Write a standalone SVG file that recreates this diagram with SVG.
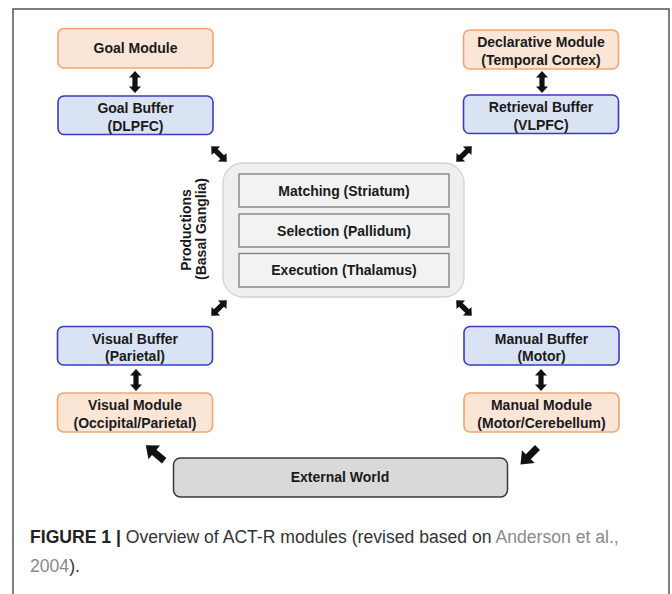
<svg xmlns="http://www.w3.org/2000/svg" xmlns:xlink="http://www.w3.org/1999/xlink" width="672" height="594" viewBox="0 0 672 594">
<style>
.t{font-family:"Liberation Sans",Arial,sans-serif;font-weight:bold;font-size:14px;fill:#1a1a1a;text-anchor:middle}
.mod{fill:#fbe5d6;stroke:#f2a56e;stroke-width:1.6}
.buf{fill:#dae3f3;stroke:#3b3bc4;stroke-width:1.6}
.inner{fill:#f2f2f2;stroke:#7a7a7a;stroke-width:1.3}
.cap{font-family:"Liberation Sans",Arial,sans-serif;font-size:17.6px;fill:#333}
</style>
<defs>
<polygon id="dbl" points="-11,0 -4.5,-6 -4.5,-2.6 4.5,-2.6 4.5,-6 11,0 4.5,6 4.5,2.6 -4.5,2.6 -4.5,6" fill="#111"/>
<polygon id="sgl" points="-12,-3.5 1,-3.5 1,-9 12,0 1,9 1,3.5 -12,3.5" fill="#111"/>
</defs>
<rect width="672" height="594" fill="#fff"/>
<path d="M13,594 V9 H669 V594" fill="none" stroke="#555" stroke-width="1.5"/>

<g id="goal-module"><rect class="mod" x="58" y="28.5" width="155" height="39.5" rx="6"/><text class="t" x="135.5" y="53">Goal Module</text></g>
<g id="goal-buffer"><rect class="buf" x="58" y="96" width="155" height="38.5" rx="6"/><text class="t" x="135.5" y="113">Goal Buffer</text><text class="t" x="135.5" y="131">(DLPFC)</text></g>
<g id="declarative-module"><rect class="mod" x="463.5" y="30" width="155" height="39" rx="6"/><text class="t" x="541" y="47">Declarative Module</text><text class="t" x="541" y="64.5">(Temporal Cortex)</text></g>
<g id="retrieval-buffer"><rect class="buf" x="463.5" y="95" width="155" height="38.5" rx="6"/><text class="t" x="541" y="112">Retrieval Buffer</text><text class="t" x="541" y="130">(VLPFC)</text></g>

<g id="productions">
<rect x="223" y="163" width="241" height="134" rx="20" fill="#efefef" stroke="#d2d2d2" stroke-width="1.3"/>
<text class="t" transform="translate(191,230) rotate(-90)">Productions</text>
<text class="t" transform="translate(206,229) rotate(-90)" font-size="13.5">(Basal Ganglia)</text>
<g id="matching"><rect class="inner" x="239" y="174" width="210" height="33"/><text class="t" x="344" y="196">Matching (Striatum)</text></g>
<g id="selection"><rect class="inner" x="239" y="214" width="210" height="33"/><text class="t" x="344" y="235.5">Selection (Pallidum)</text></g>
<g id="execution"><rect class="inner" x="239" y="253.5" width="210" height="33.5"/><text class="t" x="344" y="275">Execution (Thalamus)</text></g>
</g>

<g id="visual-buffer"><rect class="buf" x="57.5" y="326.5" width="155" height="38.5" rx="6"/><text class="t" x="135" y="343.5">Visual Buffer</text><text class="t" x="135" y="361">(Parietal)</text></g>
<g id="visual-module"><rect class="mod" x="57.5" y="393" width="155" height="39" rx="6"/><text class="t" x="135" y="410">Visual Module</text><text class="t" x="135" y="428">(Occipital/Parietal)</text></g>
<g id="manual-buffer"><rect class="buf" x="464" y="326.5" width="155" height="38.5" rx="6"/><text class="t" x="541.5" y="343.5">Manual Buffer</text><text class="t" x="541.5" y="361">(Motor)</text></g>
<g id="manual-module"><rect class="mod" x="464" y="393" width="155" height="39" rx="6"/><text class="t" x="541.5" y="410">Manual Module</text><text class="t" x="541.5" y="428">(Motor/Cerebellum)</text></g>

<g id="external-world"><rect x="173.5" y="458" width="334" height="39" rx="7" fill="#d9d9d9" stroke="#3a3a3a" stroke-width="1.5"/><text class="t" x="340" y="482">External World</text></g>

<g id="connectors">
<use href="#dbl" transform="translate(135,82) rotate(90)"/>
<use href="#dbl" transform="translate(542,82) rotate(90)"/>
<use href="#dbl" transform="translate(136,380) rotate(90)"/>
<use href="#dbl" transform="translate(541,380) rotate(90)"/>
<use href="#dbl" transform="translate(219,154) rotate(45)"/>
<use href="#dbl" transform="translate(464,154) rotate(-45)"/>
<use href="#dbl" transform="translate(219,308) rotate(-45)"/>
<use href="#dbl" transform="translate(464,308) rotate(45)"/>
<use href="#sgl" transform="translate(155,453) rotate(-140)"/>
<use href="#sgl" transform="translate(529,456) rotate(135)"/>
</g>

<text class="cap" x="30" y="543"><tspan font-weight="bold" fill="#222">FIGURE 1 |</tspan> Overview of ACT-R modules (revised based on <tspan fill="#8a8a8a">Anderson et al.,</tspan></text>
<text class="cap" x="30" y="572"><tspan fill="#8a8a8a">2004</tspan>).</text>
</svg>
